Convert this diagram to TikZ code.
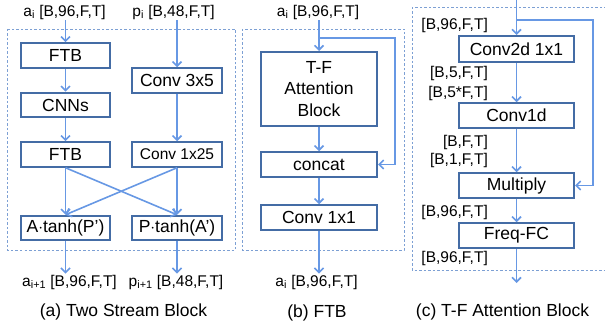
\documentclass[tikz,border=0pt]{standalone}
\usepackage{fontspec}
\setmainfont{Liberation Sans}
\usetikzlibrary{arrows.meta}
\definecolor{boxblue}{RGB}{68,108,165}
\definecolor{arrblue}{RGB}{103,152,228}
\definecolor{frameblue}{RGB}{125,160,212}
\begin{document}
\begin{tikzpicture}[x=1pt,y=-1pt,
  blk/.style={draw=boxblue,line width=2pt,minimum width=89pt,minimum height=24.5pt,inner sep=0pt,font=\fontsize{17.5}{21.5}\selectfont},
  wideblk/.style={blk,minimum width=116pt},
  arr/.style={draw=arrblue,line width=1.6pt,-{Straight Barb[length=4.5pt,width=9pt]}},
  dashframe/.style={draw=frameblue,line width=0.8pt,dash pattern=on 2.5pt off 2pt},
  lbl/.style={font=\fontsize{15.5}{18}\selectfont,inner sep=1pt},
  captxt/.style={font=\fontsize{17.5}{21}\selectfont}]
  \clip (0,0) rectangle (605,331);

  % (a) two stream block
  \draw[dashframe] (7,29) rectangle (235,250);
  \node[lbl] (ina) at (64.5,12) {a\textsubscript{i} [B,96,F,T]};
  \node[lbl] (inp) at (173.5,12) {p\textsubscript{i} [B,48,F,T]};
  \node[blk] (ftba) at (65.5,55.5) {FTB};
  \node[blk] (cnns) at (65.5,105) {CNNs};
  \node[blk] (ftbb) at (65.5,154.5) {FTB};
  \node[blk,minimum width=90pt] (conva) at (177,80.5) {Conv 3x5};
  \node[blk,minimum width=90pt,font=\fontsize{15.5}{18}\selectfont] (convb) at (177,154.5) {Conv 1x25};
  \node[blk] (atanh) at (65.5,228) {A$\cdot$tanh(P’)};
  \node[blk,minimum width=90pt] (ptanh) at (177,228) {P$\cdot$tanh(A’)};
  \node[lbl] (outa) at (69.5,282) {a\textsubscript{i+1} [B,96,F,T]};
  \node[lbl] (outp) at (176,282) {p\textsubscript{i+1} [B,48,F,T]};
  \node[captxt] (capa) at (123.5,312) {(a) Two Stream Block};
  \draw[arr] (ina.south -| ftba.north) -- (ftba.north);
  \draw[arr] (inp.south -| conva.north) -- (conva.north);
  \draw[arr] (ftba) -- (cnns);
  \draw[arr] (cnns) -- (ftbb);
  \draw[arr] (conva) -- (convb);
  \draw[arr] (ftbb.south) -- (atanh.north);
  \draw[arr] (ftbb.south) -- (ptanh.north);
  \draw[arr] (convb.south) -- (atanh.north);
  \draw[arr] (convb.south) -- (ptanh.north);
  \draw[arr] (atanh.south) -- (atanh.south |- outa.north);
  \draw[arr] (ptanh.south) -- (ptanh.south |- outp.north);

  % (b) FTB
  \draw[dashframe] (242,29) rectangle (404,250);
  \node[lbl] (inb) at (318,12) {a\textsubscript{i} [B,96,F,T]};
  \node[wideblk,minimum height=74pt,align=center] (tfa) at (319,89) {T-F\\Attention\\Block};
  \node[wideblk] (concat) at (319,164.5) {concat};
  \node[wideblk] (convc) at (319,217.5) {Conv 1x1};
  \node[lbl] (outb) at (316.5,282) {a\textsubscript{i} [B,96,F,T]};
  \node[captxt] (capb) at (317,313) {(b) FTB};
  \coordinate (splitb) at (319,38);
  \draw[arr] (inb.south -| tfa.north) -- (tfa.north);
  \draw[arr] (splitb) -- (395,38) |- (concat.east);
  \draw[arr] (tfa) -- (concat);
  \draw[arr] (concat) -- (convc);
  \draw[arr] (convc.south) -- (convc.south |- outb.north);

  % (c) T-F attention block
  \draw[dashframe] (412,7) rectangle (640,270);
  \coordinate (inc) at (516.5,-2);
  \coordinate (splitc) at (516.5,20);
  \coordinate (outc) at (516.5,283);
  \node[blk,minimum width=115pt,minimum height=26pt] (convd) at (516.5,49) {Conv2d 1x1};
  \node[blk,minimum width=115pt] (conve) at (516.5,115.5) {Conv1d};
  \node[blk,minimum width=115pt] (mult) at (516.5,185.5) {Multiply};
  \node[blk,minimum width=115pt] (freq) at (516.5,235.5) {Freq-FC};
  \node[lbl,anchor=east] (s1) at (489,25) {[B,96,F,T]};
  \node[lbl,anchor=east] (s2) at (489,73) {[B,5,F,T]};
  \node[lbl,anchor=east] (s3) at (489,93) {[B,5*F,T]};
  \node[lbl,anchor=east] (s4) at (489,142) {[B,F,T]};
  \node[lbl,anchor=east] (s5) at (489,160) {[B,1,F,T]};
  \node[lbl,anchor=east] (s6) at (489,212) {[B,96,F,T]};
  \node[lbl,anchor=east] (s7) at (489,258) {[B,96,F,T]};
  \node[captxt] (capc) at (502.5,312) {(c) T-F Attention Block};
  \draw[arr] (inc) -- (convd.north);
  \draw[arr] (splitc) -- (593,20) |- (mult.east);
  \draw[arr] (convd) -- (conve);
  \draw[arr] (conve) -- (mult);
  \draw[arr] (mult) -- (freq);
  \draw[arr] (freq.south) -- (outc);
\end{tikzpicture}
\end{document}
